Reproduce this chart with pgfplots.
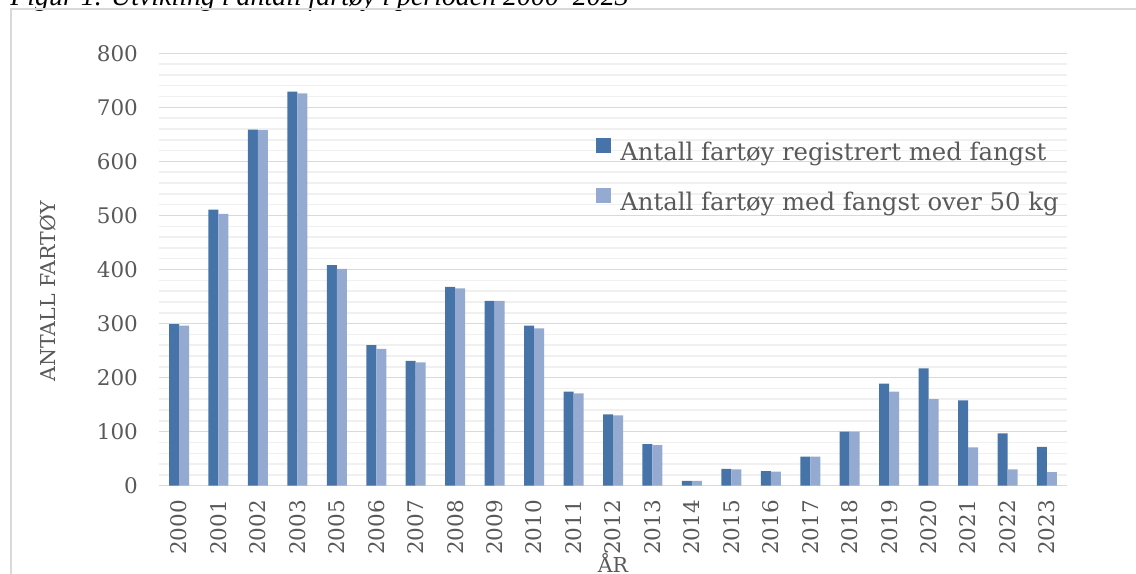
\documentclass[border=0pt]{standalone}
\usepackage{fontspec}
\setmainfont{DejaVu Serif}
\newfontfamily\titlefont{Liberation Serif}
\usepackage{pgfplots}
\pgfplotsset{compat=1.18}
\definecolor{darkbar}{RGB}{70,116,168}
\definecolor{lightbar}{RGB}{149,170,209}
\definecolor{txt}{RGB}{89,89,89}
\definecolor{majgrid}{RGB}{217,217,217}
\definecolor{mingrid}{RGB}{240,240,240}

\pgfplotstableread{
idx year reg over
0 2000 299 296
1 2001 511 503
2 2002 659 658
3 2003 729 726
4 2005 408 401
5 2006 260 253
6 2007 231 228
7 2008 368 365
8 2009 342 342
9 2010 296 291
10 2011 174 171
11 2012 132 130
12 2013 77 75
13 2014 9 9
14 2015 31 30
15 2016 27 26
16 2017 54 54
17 2018 100 100
18 2019 189 174
19 2020 217 160
20 2021 158 71
21 2022 97 30
22 2023 72 25
}\datatable

\begin{document}
\begin{tikzpicture}
\useasboundingbox (0,0) rectangle (568bp,-287bp);
\clip (0,0) rectangle (568bp,-287bp);
\node[anchor=base west, inner sep=0, font=\titlefont\itshape\fontsize{14}{16}\selectfont] at (5bp,-2.5bp) {Figur 1. Utvikling i antall fartøy i perioden 2000–2023};
\draw[majgrid, line width=0.75bp] (5.5bp,-300bp) -- (5.5bp,-4.5bp) -- (600bp,-4.5bp);
\begin{axis}[
  at={(79.65bp,-242.85bp)}, anchor=south west,
  scale only axis, width=453.7bp, height=216.2bp,
  ybar=0pt, bar width=5bp,
  xmin=-0.5, xmax=22.5, ymin=0, ymax=800,
  xtick=data,
  xticklabels={2000,2001,2002,2003,2005,2006,2007,2008,2009,2010,2011,2012,2013,2014,2015,2016,2017,2018,2019,2020,2021,2022,2023},
  xticklabel style={rotate=90, anchor=east, inner sep=0pt, font=\fontsize{10.8}{13}\selectfont, text=txt},
  xticklabel shift=7bp,
  ytick={0,100,...,800},
  minor ytick={20,40,60,80,120,140,160,180,220,240,260,280,320,340,360,380,420,440,460,480,520,540,560,580,620,640,660,680,720,740,760,780},
  yticklabel style={anchor=east, inner sep=0pt, font=\fontsize{10.8}{13}\selectfont, text=txt},
  yticklabel shift=10.5bp,
  /pgf/number format/assume math mode=true,
  ymajorgrids, yminorgrids,
  major grid style={draw=majgrid, line width=0.75bp},
  minor grid style={draw=mingrid, line width=0.75bp},
  axis line style={draw=none},
  tick style={draw=none},
  major tick length=0pt, minor tick length=0pt,
  ylabel={ANTALL FARTØY},
  ylabel style={at={(axis description cs:-0.1149,0.449)}, anchor=base, font=\fontsize{10.3}{12}\selectfont, text=txt},
  xlabel={ÅR},
  xlabel style={at={(axis description cs:0.5,-0.1996)}, anchor=base, font=\fontsize{10.3}{12}\selectfont, text=txt},
  legend style={at={(0.4813,0.7174)}, anchor=west, draw=none, fill=none, font=\fontsize{12.2}{14.6}\selectfont, text=txt, inner sep=0pt, row sep=12bp, column sep=4.5bp, nodes={inner sep=0pt}},
  legend cell align=left,
  legend image code/.code={\fill[#1] (0bp,0bp) rectangle (7.5bp,7.5bp);},
]
\addplot[fill=darkbar, draw=none] table[x=idx, y=reg] {\datatable};
\addlegendentry{Antall fartøy registrert med fangst}
\addplot[fill=lightbar, draw=none] table[x=idx, y=over] {\datatable};
\addlegendentry{Antall fartøy med fangst over 50 kg}
\end{axis}
\end{tikzpicture}
\end{document}
